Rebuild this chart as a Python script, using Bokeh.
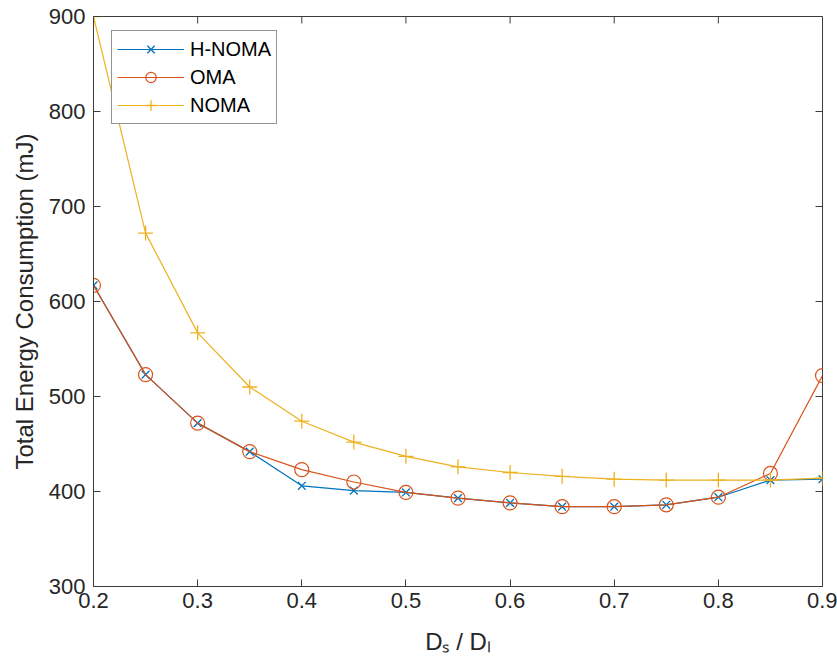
import math
from bokeh.plotting import figure
from bokeh.models import FixedTicker, Range1d, Legend, LegendItem
from bokeh.embed import file_html
from bokeh.resources import INLINE

x_vals = [0.2, 0.25, 0.3, 0.35, 0.4, 0.45, 0.5, 0.55, 0.6, 0.65, 0.7, 0.75, 0.8, 0.85, 0.9]
h_noma = [617, 523, 472, 442, 406, 401, 399, 393, 388, 384, 384, 386, 394, 412, 413]
oma = [617, 523, 472, 442, 423, 410, 399, 393, 388, 384, 384, 386, 394, 419, 522]
noma = [900, 672, 567, 510, 474, 452, 437, 426, 420, 416, 413, 412, 412, 412, 414]
x_ticks = [0.2, 0.3, 0.4, 0.5, 0.6, 0.7, 0.8, 0.9]
y_ticks = [300, 400, 500, 600, 700, 800, 900]
x_lim = (0.2, 0.9)
y_lim = (300, 900)

FONT = "Liberation Sans"
AX = "#262626"
EDGE = "#3c3c3c"
BLUE, ORANGE, YELLOW = "#0072BD", "#D95319", "#EDB120"

p = figure(width=837, height=664, output_backend="svg", toolbar_location=None,
           x_range=Range1d(*x_lim), y_range=Range1d(*y_lim))
p.min_border_left = 93
p.min_border_right = 15
p.min_border_top = 16
p.min_border_bottom = 78
p.outline_line_color = EDGE
p.outline_line_width = 1
p.xgrid.visible = False
p.ygrid.visible = False
p.background_fill_color = "white"
p.border_fill_color = "white"

for ax, ticks in [(p.xaxis[0], x_ticks), (p.yaxis[0], y_ticks)]:
    ax.ticker = FixedTicker(ticks=ticks)
    ax.minor_tick_line_color = None
    ax.major_tick_in = 7
    ax.major_tick_out = 0
    ax.axis_line_color = EDGE
    ax.major_tick_line_color = EDGE
    ax.major_label_text_font = FONT
    ax.major_label_text_font_size = "22px"
    ax.major_label_text_color = AX
    ax.axis_label_text_font = FONT
    ax.axis_label_text_font_size = "24px"
    ax.axis_label_text_font_style = "normal"
    ax.axis_label_text_color = AX

p.xaxis[0].major_label_standoff = 6
p.yaxis[0].major_label_standoff = 8
p.yaxis[0].axis_label = "Total Energy Consumption (mJ)"
p.yaxis[0].axis_label_standoff = 8
p.xaxis[0].axis_label = "D\u209b / D\u2097"
p.xaxis[0].axis_label_standoff = 17

# inward tick marks on the top and right edges of the box
p.ray(x=x_ticks, y=[y_lim[1]] * len(x_ticks), length=7, length_units="screen",
      angle=-math.pi / 2, line_color=EDGE, line_width=1)
p.ray(x=[x_lim[1]] * len(y_ticks), y=y_ticks, length=7, length_units="screen",
      angle=math.pi, line_color=EDGE, line_width=1)

l1 = p.line(x_vals, h_noma, line_color=BLUE, line_width=1.2)
s1 = p.scatter(x_vals, h_noma, marker="x", size=11, line_color=BLUE, line_width=1.3)
l2 = p.line(x_vals, oma, line_color=ORANGE, line_width=1.2)
s2 = p.scatter(x_vals, oma, marker="circle", size=14, fill_color=None,
               line_color=ORANGE, line_width=1.2)
l3 = p.line(x_vals, noma, line_color=YELLOW, line_width=1.2)
s3 = p.scatter(x_vals, noma, marker="cross", size=15, line_color=YELLOW, line_width=1.3)

legend = Legend(items=[
    LegendItem(label="H-NOMA", renderers=[l1, s1]),
    LegendItem(label="OMA", renderers=[l2, s2]),
    LegendItem(label="NOMA", renderers=[l3, s3]),
], location=(18, 462))
legend.border_line_color = AX
legend.border_line_width = 1
legend.background_fill_color = "white"
legend.background_fill_alpha = 1
legend.label_text_font = FONT
legend.label_text_font_size = "20px"
legend.label_text_color = "black"
legend.glyph_width = 67
legend.glyph_height = 26
legend.label_height = 26
legend.label_standoff = 6
legend.spacing = 2
legend.padding = 5
legend.margin = 0
p.add_layout(legend, "center")

open("out.html", "w").write(file_html(p, INLINE))
